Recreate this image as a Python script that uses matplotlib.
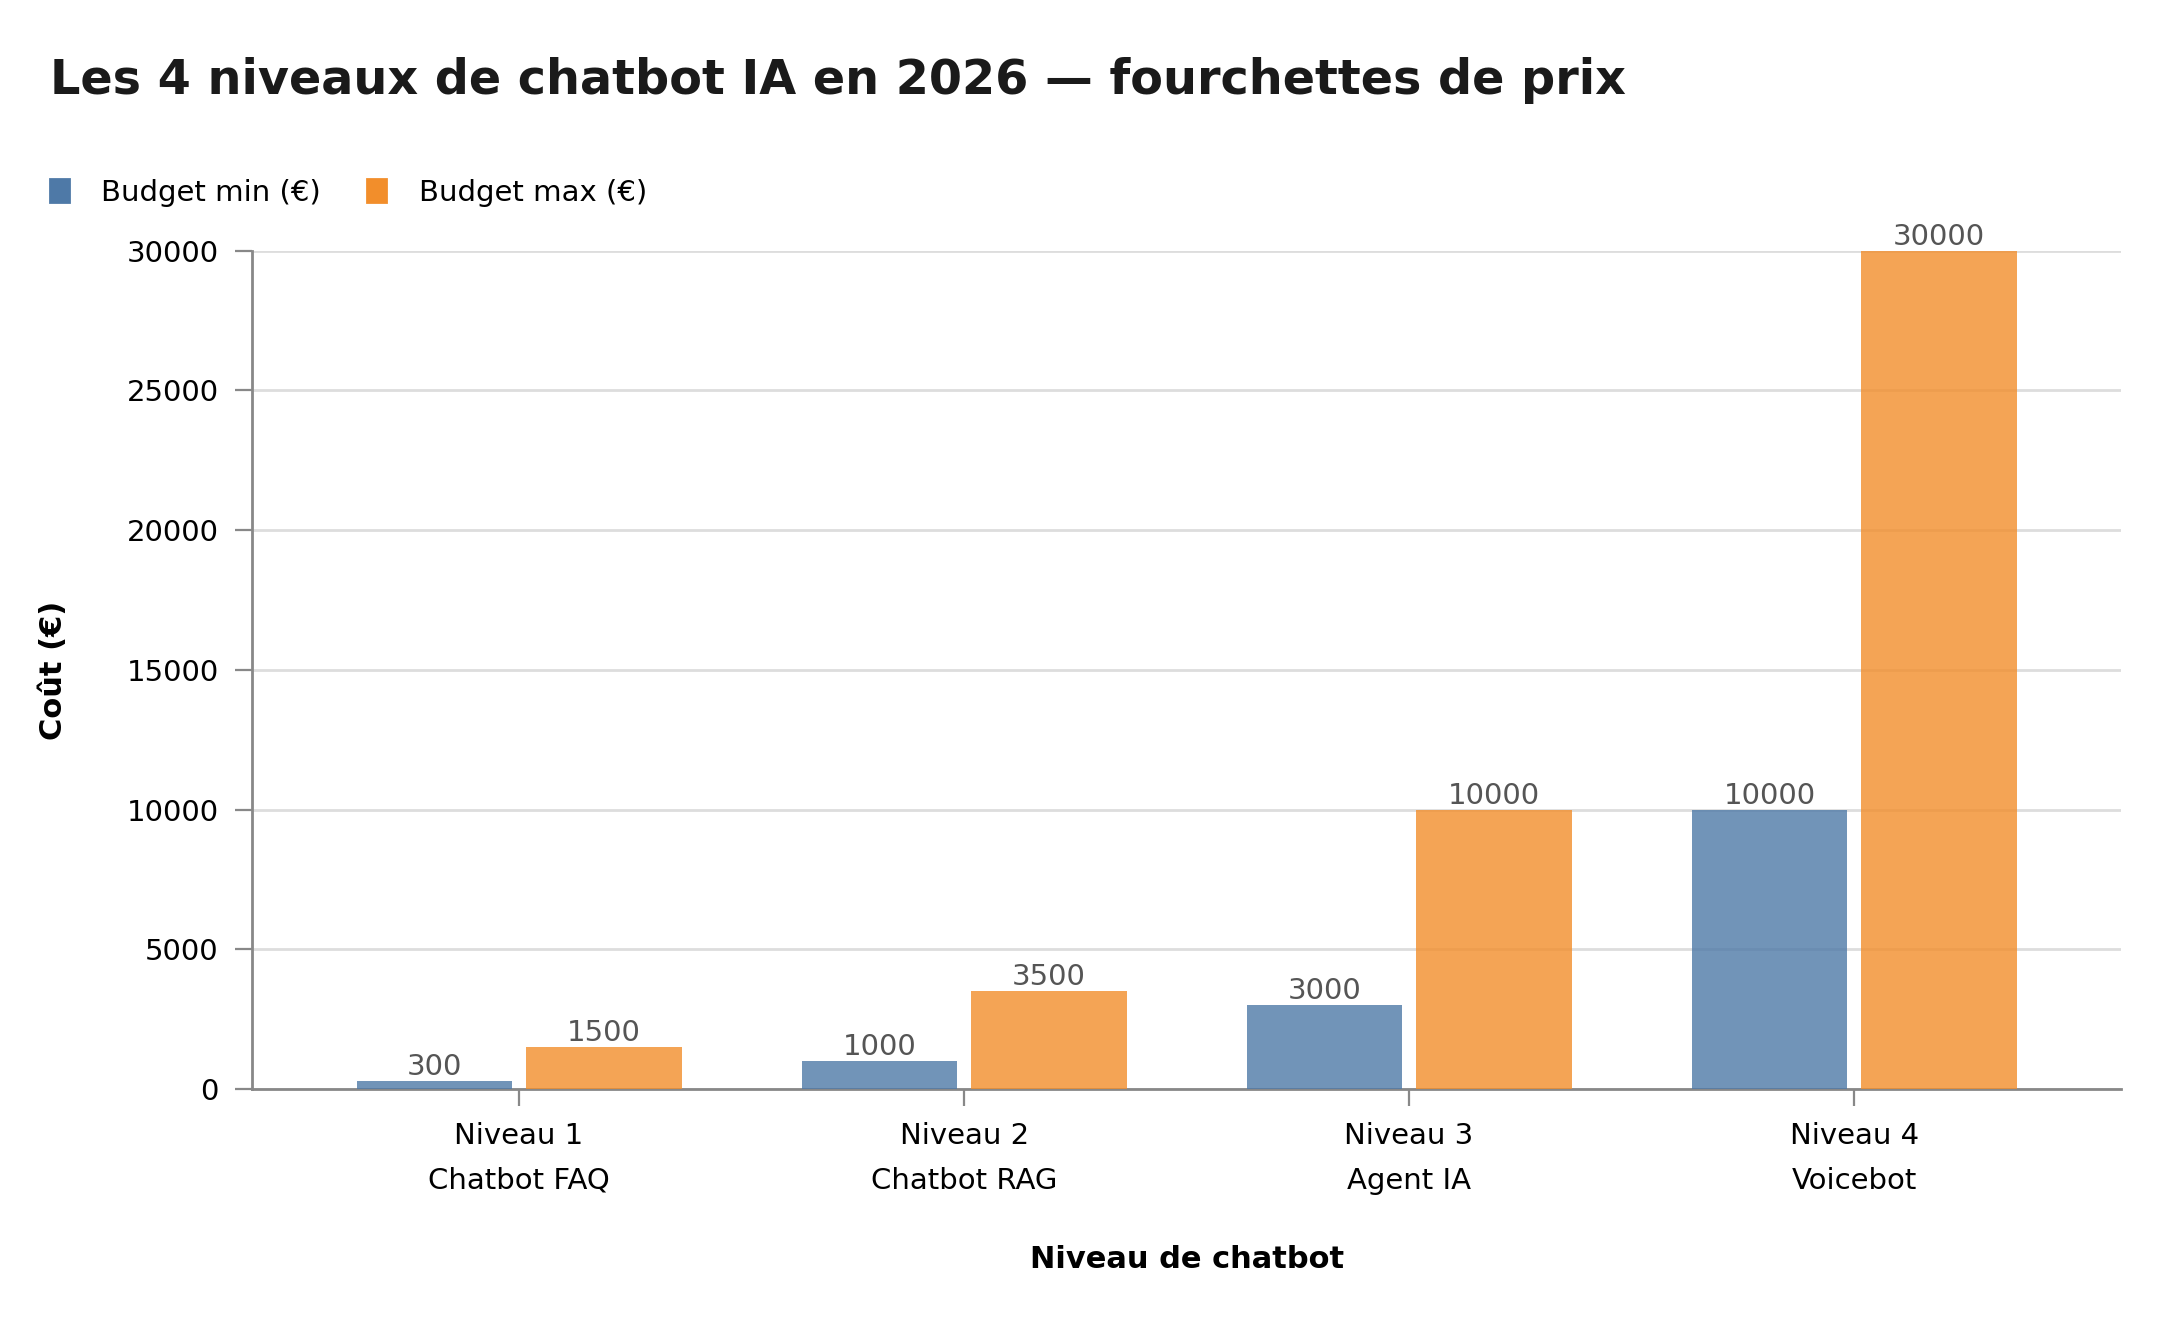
import numpy as np
from matplotlib import pyplot as plt
from matplotlib.patches import Patch

# data
niveaux = ['Niveau 1\nChatbot FAQ', 'Niveau 2\nChatbot RAG', 'Niveau 3\nAgent IA', 'Niveau 4\nVoicebot']
budget_min = [300, 1000, 3000, 10000]
budget_max = [1500, 3500, 10000, 30000]
series_names = ['Budget min (€)', 'Budget max (€)']

blue = '#4e79a7'
orange = '#f28e2b'

fig = plt.figure(figsize=(10.8, 6.6), dpi=200)
ax = fig.add_axes([0.1167, 0.175, 0.8653, 0.635])

x = np.arange(len(niveaux))
w = 0.35
off = 0.19
b1 = ax.bar(x - off, budget_min, w, color=blue, alpha=0.8, zorder=3)
b2 = ax.bar(x + off, budget_max, w, color=orange, alpha=0.8, zorder=3)

for bars, vals in [(b1, budget_min), (b2, budget_max)]:
    for rect, v in zip(bars, vals):
        ax.text(rect.get_x() + rect.get_width() / 2, v, str(v),
                ha='center', va='bottom', fontsize=10.5, color='#555555', zorder=4)

ax.set_xlim(-0.6, 3.6)
ax.set_ylim(0, 30000)
ax.set_yticks(np.arange(0, 30001, 5000))
ax.set_xticks(x)
ax.set_xticklabels(niveaux, fontsize=10.5, linespacing=1.75)
ax.tick_params(axis='y', labelsize=10.5, length=6, color='#888888', pad=6)
ax.tick_params(axis='x', length=6, color='#888888', pad=6)

ax.grid(axis='y', color='#dddddd', linewidth=1, zorder=0)
ax.set_axisbelow(True)
for s in ['top', 'right']:
    ax.spines[s].set_visible(False)
for s in ['left', 'bottom']:
    ax.spines[s].set_color('#888888')
    ax.spines[s].set_linewidth(1.0)

ax.set_ylabel('Coût (€)', fontsize=11, fontweight='bold', labelpad=21)
ax.set_xlabel('Niveau de chatbot', fontsize=11, fontweight='bold', labelpad=18)

fig.text(0.023, 0.939, 'Les 4 niveaux de chatbot IA en 2026 — fourchettes de prix',
         fontsize=17.2, fontweight='bold', color='#1a1a1a', va='center', ha='left')

handles = [Patch(color=blue), Patch(color=orange)]
fig.legend(handles, series_names, loc='center left', bbox_to_anchor=(0.011, 0.854),
           ncol=2, frameon=False, fontsize=10.5, handlelength=0.65, handleheight=0.8,
           handletextpad=1.1, columnspacing=1.6)

plt.savefig('out.png', dpi=200)
